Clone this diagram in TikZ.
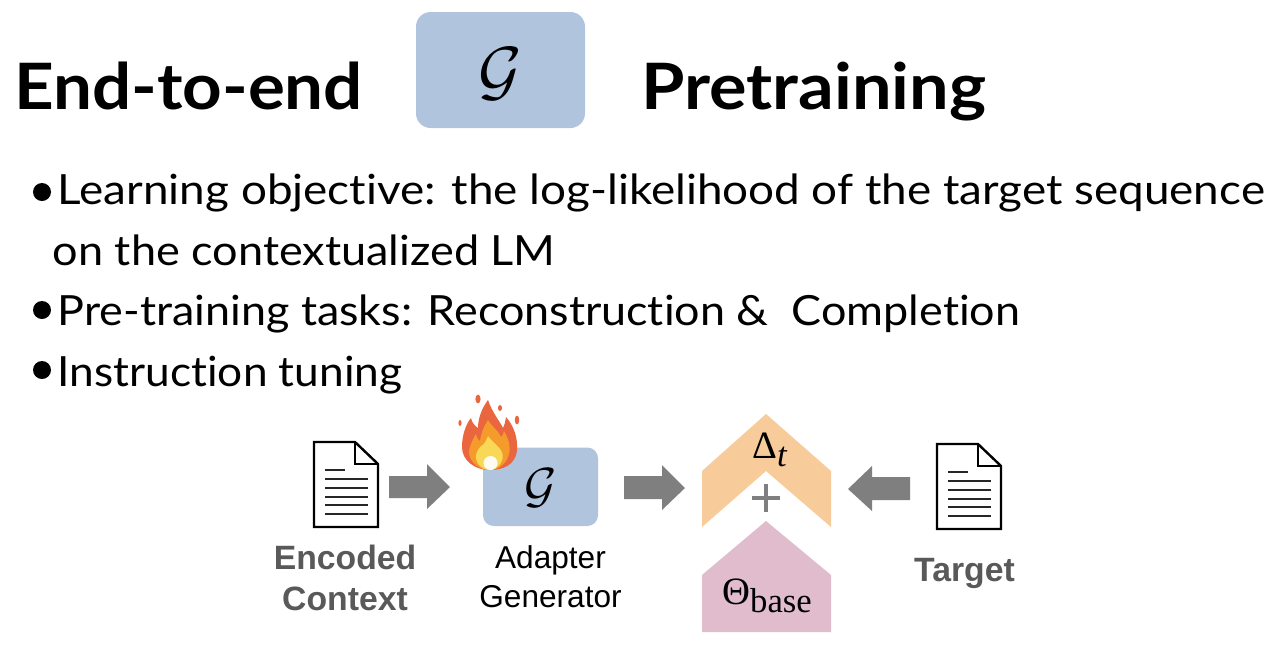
\documentclass[tikz,border=0pt]{standalone}
\usepackage{fix-cm}
\usepackage{fontspec}
\setmainfont{Lato}[Ligatures=NoCommon]
\newfontfamily\bodyfontA{Lato}[FakeStretch=1.102,Ligatures=NoCommon]
\newfontfamily\bodyfontB{Lato}[FakeStretch=1.083,Ligatures=NoCommon]
\newfontfamily\bodyfontC{Lato}[FakeStretch=1.079,Ligatures=NoCommon]
\newfontfamily\bodyfontD{Lato}[FakeStretch=1.063,Ligatures=NoCommon]
\newfontfamily\titlefontA{Lato}[FakeStretch=1.079,Ligatures=NoCommon]
\newfontfamily\titlefontB{Lato}[FakeStretch=1.098,Ligatures=NoCommon]
\newfontfamily\labelfont{Liberation Sans}
\newfontfamily\symfont{Liberation Serif}
\definecolor{gblue}{HTML}{B0C4DE}
\definecolor{chev}{HTML}{F8CB9B}
\definecolor{pinkb}{HTML}{E0BCCC}
\definecolor{garrow}{HTML}{7F7F7F}
\definecolor{glabel}{HTML}{595959}
\definecolor{fl1}{HTML}{E9663F}
\definecolor{fl2}{HTML}{F59B2B}
\definecolor{fl3}{HTML}{FAD857}
\tikzset{
  title/.style={anchor=base west,inner sep=0pt,font=#1\fontsize{48}{48}\selectfont\bfseries},
  bodytext/.style={anchor=base west,inner sep=0pt,font=#1\fontsize{31.2}{31.2}\selectfont},
  bulletdot/.style={circle,fill=black,inner sep=0pt,minimum size=13.5pt},
  boldlabel/.style={align=center,inner sep=0pt,text=glabel,font=\labelfont\bfseries\fontsize{25.3}{30.5}\selectfont},
  thinlabel/.style={align=center,inner sep=0pt,text=black,font=\labelfont\fontsize{23.7}{29.5}\selectfont},
  gbox/.style={fill=gblue,draw=none,rounded corners=#1},
  blockarrow/.style={fill=garrow,draw=none},
  docline/.style={draw=black,line width=1.8pt,line join=miter},
  docrule/.style={draw=black!85,line width=1.5pt},
  symtext/.style={anchor=base west,inner sep=0pt,font=\symfont\fontsize{29}{29}\selectfont},
}
\newcommand{\docicon}[2]{%
  \begin{scope}[shift={(#1,#2)}]
    \draw[docline] (0,0) -- (41,0) -- (64,22) -- (64,85) -- (0,85) -- cycle;
    \draw[docline] (41,0) -- (41,22) -- (64,22);
    \draw[docrule] (11,28) -- (31,28);
    \foreach \yy in {37,46,55,63,72} \draw[docrule] (11,\yy) -- (54,\yy);
  \end{scope}}
\begin{document}
\begin{tikzpicture}[x=0.75pt,y=-0.75pt]
\path[use as bounding box,fill=white] (0,0) rectangle (1282,662);

% header
\node[title=\titlefontA] (t1) at (14,109) {End-to-end};
\draw[gbox=11pt] (416,12) rectangle (585,128);
\node (g1) at (500,74) {\fontsize{50}{50}\selectfont$\mathcal{G}$};
\node[title=\titlefontB] (t2) at (641,109) {Pretraining};

% bullets
\node[bulletdot] (b1) at (42,192) {};
\node[bodytext=\bodyfontA] (l1) at (57.5,204) {Learning objective: the log-likelihood of the target sequence};
\node[bodytext=\bodyfontB] (l2) at (52.5,265) {on the contextualized LM};
\node[bulletdot] (b2) at (42,310) {};
\node[bodytext=\bodyfontC] (l3) at (57.5,325) {Pre-training tasks: Reconstruction \&\ \ Completion};
\node[bulletdot] (b3) at (42,370) {};
\node[bodytext=\bodyfontD] (l4) at (57.5,386) {Instruction tuning};

% documents
\docicon{314}{442}
\docicon{937}{444}

% block arrows
\fill[blockarrow] (389,476) -- (427,476) -- (427,464) -- (450,487) -- (427,509) -- (427,498) -- (389,498) -- cycle;
\fill[blockarrow] (624,476) -- (662,476) -- (662,465) -- (685,488) -- (662,510) -- (662,499) -- (624,499) -- cycle;
\fill[blockarrow] (910,477) -- (872,477) -- (872,466) -- (848,489) -- (872,511) -- (872,500) -- (910,500) -- cycle;

% generator box
\draw[gbox=8pt] (483,447.5) rectangle (598,526);
\node (g2) at (541,488) {\fontsize{37}{37}\selectfont$\mathcal{G}$};

% flame
\fill[fl1] (488,400) .. controls (492,412) and (499,420) .. (503,428)
  .. controls (505,425) and (505,422) .. (506,417)
  .. controls (514,426) and (518,438) .. (517,451)
  .. controls (515,465) and (503,470) .. (490,470)
  .. controls (474,470) and (462,460) .. (462,447)
  .. controls (462,435) and (466,424) .. (471,418)
  .. controls (472,423) and (475,426) .. (478,428)
  .. controls (478,418) and (482,408) .. (488,400) -- cycle;
\fill[fl2] (488,420) .. controls (492,427) and (499,431) .. (501,437)
  .. controls (503,436) and (503,434) .. (504,431)
  .. controls (510,441) and (511,450) .. (508,457)
  .. controls (505,465) and (497,470) .. (490,470)
  .. controls (480,470) and (470,463) .. (469,453)
  .. controls (469,447) and (472,441) .. (476,434)
  .. controls (477,438) and (478,440) .. (480,441)
  .. controls (481,433) and (484,426) .. (488,420) -- cycle;
\fill[fl3] (488,436) .. controls (492,442) and (499,446) .. (502,452)
  .. controls (505,460) and (498,470) .. (490,470)
  .. controls (481,470) and (475,462) .. (476,455)
  .. controls (477,451) and (479,448) .. (481,446)
  .. controls (484,445) and (486,441) .. (488,436) -- cycle;
\fill[white!92!fl3] (490.5,463) circle (7);
\fill[fl1] (478,399) ellipse (2.6 and 4.4);
\fill[fl1] (500,408) ellipse (2 and 3);
\fill[fl1] (460,423) ellipse (1.6 and 3);
\fill[fl1] (517,420) ellipse (2.2 and 4.4);

% parameters
\fill[chev] (766,414) -- (831,471) -- (831,527) -- (766,471) -- (702,527) -- (702,471) -- cycle;
\node[symtext] (delta) at (752,458) {Δ\raisebox{-6pt}{\fontsize{26}{26}\selectfont\itshape t}};
\draw[garrow,line width=2.3pt] (752,498) -- (780,498) (766,484) -- (766,512);
\fill[pinkb] (766,521) -- (831,575) -- (831,632) -- (702,632) -- (702,575) -- cycle;
\node[symtext] (theta) at (722,604) {Θ\raisebox{-6pt}{\fontsize{26}{26}\selectfont base}};

% labels
\node[boldlabel] (enc) at (345,578) {Encoded\\Context};
\node[thinlabel] (adp) at (550.5,577) {Adapter\\Generator};
\node[boldlabel] (tgt) at (964.5,573) {Target};
\end{tikzpicture}
\end{document}
